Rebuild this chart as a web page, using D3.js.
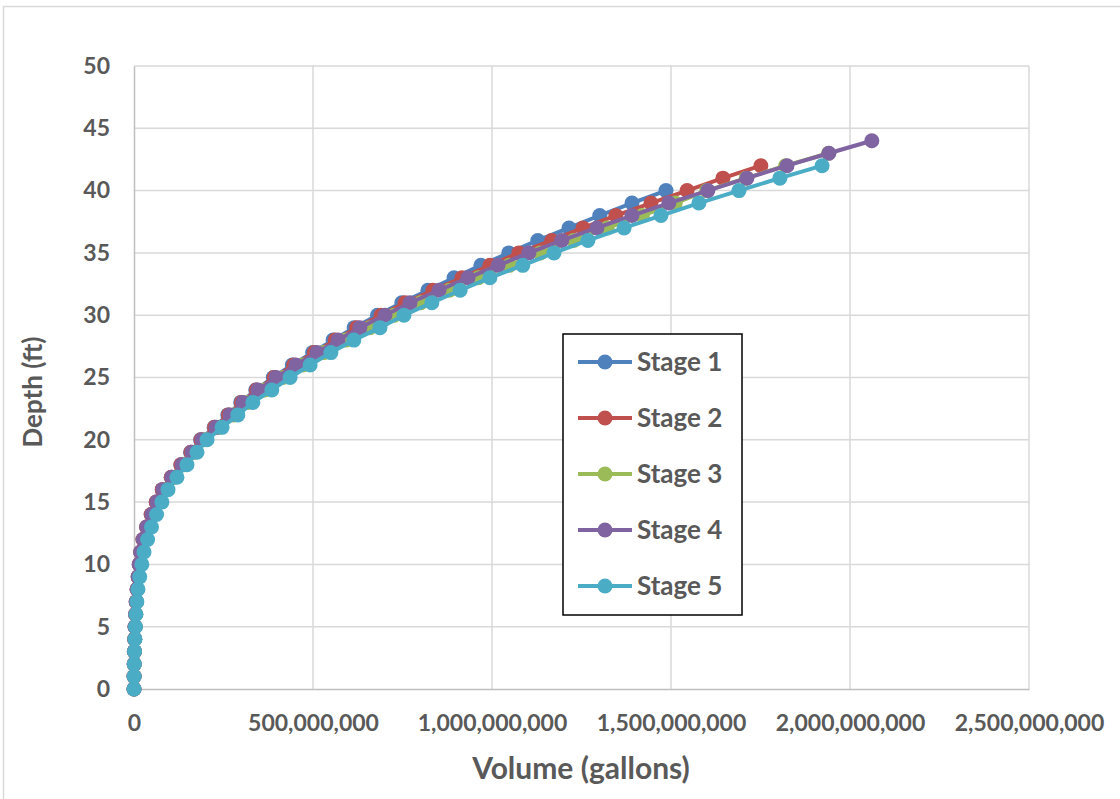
<!DOCTYPE html>
<html>
<head>
<meta charset="utf-8">
<script src="https://cdn.jsdelivr.net/npm/d3@7"></script>
<style>
  html, body { margin: 0; padding: 0; background: #fff; }
  svg { display: block; }
  text { font-family: Lato, "Open Sans", sans-serif; font-weight: bold; fill: #595959; }
</style>
</head>
<body>
<svg id="chart" width="1120" height="799"></svg>
<script>
// ---------- DATA (volumes in millions of gallons, depth in ft) ----------
const seriesNames = ["Stage 1", "Stage 2", "Stage 3", "Stage 4", "Stage 5"];
const seriesColors = ["#4F81BD", "#C0504D", "#9BBB59", "#8064A2", "#4BACC6"];

const stage1Volume = [0,0.2,0.5,1,1.8, 2.8,4.2,6,8.5,11.5, 14.5,18.5,25,35,48, 62,79,104,131,158,
  186,224,262,298,340, 389,442,499,556,615, 680,748,821,894,969, 1047,1128,1215,1301,1391, 1486];
const stage2Volume = [0,0.2,0.5,1,1.8, 2.8,4.2,6,8.5,11.5, 14.5,18.5,25,35,48, 62,79,104,131,159,
  187,225,264,300,342, 392,446,504,562,622, 690,757,835,916,994, 1075,1167,1254,1346,1444, 1545,1645,1751];
const stage3Volume = [0,0.2,0.7,1.3,2.2, 3.5,5,7,10,14, 19,24,32,43,57, 71,88,113,141,169,
  197,237,279,318,365, 416,472,530,592,659, 727,801,881,962,1048, 1135,1228,1322,1420,1512, 1600,1710,1820,1940];
const stage4Volume = [0,0.2,0.6,1.2,2, 3,4.5,6.5,9,12, 15,19,26,36,50, 64,81,106,134,162,
  190,229,268,304,346, 397,452,511,570,631, 701,771,852,933,1017, 1103,1195,1293,1391,1494, 1603,1712,1824,1941,2061];
const stage5Volume = [0,0.3,0.8,1.5,2.5, 4,5.5,8,11,16, 22,28,38,49,63, 78,95,120,148,176,
  204,246,290,332,385, 436,492,550,614,687, 754,832,911,994,1086, 1173,1268,1369,1472,1578, 1690,1804,1922];

const xTicks = [0, 500000000, 1000000000, 1500000000, 2000000000, 2500000000];
const yTicks = [0, 5, 10, 15, 20, 25, 30, 35, 40, 45, 50];
const xTitle = "Volume (gallons)";
const yTitle = "Depth (ft)";

const allVolumes = [stage1Volume, stage2Volume, stage3Volume, stage4Volume, stage5Volume];
const series = seriesNames.map((name, i) => ({
  name, color: seriesColors[i],
  points: allVolumes[i].map((v, d) => ({ depth: d, volume: v * 1e6 }))
}));

// ---------- LAYOUT ----------
const svg = d3.select("#chart");
const plot = { left: 134, right: 1029, top: 66, bottom: 689 };

// outer chart frame
svg.append("rect").attr("x", 3.5).attr("y", 6.5).attr("width", 1120).attr("height", 800)
  .attr("fill", "#fff").attr("stroke", "#d9d9d9").attr("stroke-width", 1.5);

const x = d3.scaleLinear().domain([0, 2500000000]).range([plot.left, plot.right]);
const y = d3.scaleLinear().domain([0, 50]).range([plot.bottom, plot.top]);

// gridlines
svg.append("g").selectAll("line").data(yTicks.filter(t => t > 0)).join("line")
  .attr("x1", plot.left).attr("x2", plot.right)
  .attr("y1", d => y(d)).attr("y2", d => y(d))
  .attr("stroke", "#d9d9d9").attr("stroke-width", 1.5);
svg.append("g").selectAll("line").data(xTicks.filter(t => t > 0)).join("line")
  .attr("y1", plot.top).attr("y2", plot.bottom)
  .attr("x1", d => x(d)).attr("x2", d => x(d))
  .attr("stroke", "#d9d9d9").attr("stroke-width", 1.5);

// axes
const xAxis = svg.append("g").attr("transform", `translate(0,${plot.bottom})`)
  .call(d3.axisBottom(x).tickValues(xTicks).tickFormat(d3.format(",")).tickSize(0).tickPadding(26));
xAxis.select(".domain").attr("stroke", "#bfbfbf").attr("stroke-width", 1.5);
xAxis.selectAll("text").style("font-size", "23px").attr("fill", "#595959");

const yAxis = svg.append("g").attr("transform", `translate(${plot.left},0)`)
  .call(d3.axisLeft(y).tickValues(yTicks).tickSize(0).tickPadding(24));
yAxis.select(".domain").attr("stroke", "#bfbfbf").attr("stroke-width", 1.5);
yAxis.selectAll("text").style("font-size", "23px").attr("fill", "#595959");
svg.selectAll(".tick text").style("font-family", "Lato, sans-serif").style("font-weight", "bold");

// axis titles
svg.append("text").attr("x", 581).attr("y", 779)
  .attr("text-anchor", "middle").style("font-size", "30px").text(xTitle);
svg.append("text").attr("transform", `translate(42,392) rotate(-90)`)
  .attr("text-anchor", "middle").style("font-size", "26px").text(yTitle);

// series
const line = d3.line().x(d => x(d.volume)).y(d => y(d.depth));
const sg = svg.append("g").selectAll("g").data(series).join("g");
sg.append("path").attr("d", d => line(d.points))
  .attr("fill", "none").attr("stroke", d => d.color).attr("stroke-width", 4)
  .attr("stroke-linejoin", "round");
sg.selectAll("circle").data(d => d.points.map(p => ({ ...p, color: d.color }))).join("circle")
  .attr("cx", d => x(d.volume)).attr("cy", d => y(d.depth)).attr("r", 7.5)
  .attr("fill", d => d.color);

// legend
const legend = svg.append("g");
legend.append("rect").attr("x", 563).attr("y", 334).attr("width", 179).attr("height", 281)
  .attr("fill", "#fff").attr("stroke", "#000").attr("stroke-width", 1.5);
const li = legend.selectAll("g.item").data(series).join("g").attr("class", "item")
  .attr("transform", (d, i) => `translate(0,${362 + i * 56})`);
li.append("line").attr("x1", 578).attr("x2", 632).attr("y1", 0).attr("y2", 0)
  .attr("stroke", d => d.color).attr("stroke-width", 4);
li.append("circle").attr("cx", 605).attr("cy", 0).attr("r", 7.5).attr("fill", d => d.color);
li.append("text").attr("x", 637).attr("y", 0).attr("dy", "0.35em")
  .style("font-size", "26px").text(d => d.name);
</script>
</body>
</html>
